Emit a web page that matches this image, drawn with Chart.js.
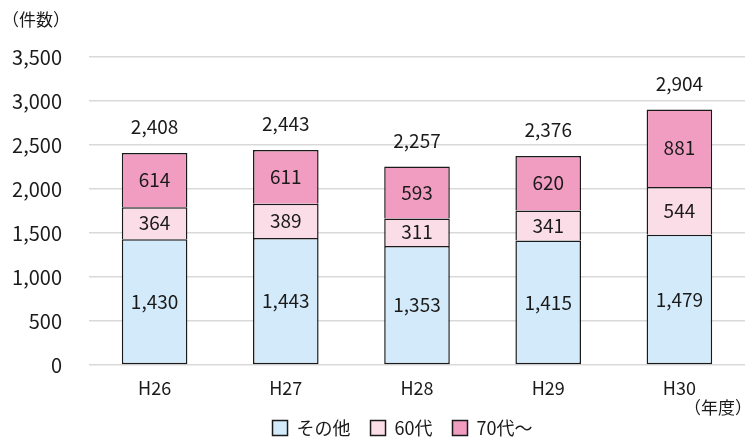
<!DOCTYPE html>
<html>
<head>
<meta charset="utf-8">
<script src="https://cdn.jsdelivr.net/npm/chart.js@4"></script>
<style>
  html, body { margin: 0; padding: 0; background: #fff; }
  #wrap { width: 752px; height: 437px; }
</style>
</head>
<body>
<div id="wrap"><canvas id="c"></canvas></div>
<script>
const FONT = '"Noto Sans CJK JP", "Noto Sans", sans-serif';

const years  = ['H26', 'H27', 'H28', 'H29', 'H30'];
const others = [1430, 1443, 1353, 1415, 1479];
const sixties = [364, 389, 311, 341, 544];
const seventies = [614, 611, 593, 620, 881];
const totals = [2408, 2443, 2257, 2376, 2904];
const yTicks = [0, 500, 1000, 1500, 2000, 2500, 3000, 3500];

const fmt = v => v.toLocaleString('en-US');

// value labels inside segments + totals above bars + unit labels
const labelPlugin = {
    id: 'labels',
    afterLayout(chart) {
        // nudge the legend right so it sits where the original one does
        chart.legend.left += 54;
    },
    afterDatasetsDraw(chart) {
        const ctx = chart.ctx;
        ctx.save();
        ctx.fillStyle = '#1a1a1a';
        ctx.textAlign = 'center';
        ctx.textBaseline = 'middle';
        ctx.font = '19px ' + FONT;
        chart.data.datasets.forEach((ds, di) => {
            chart.getDatasetMeta(di).data.forEach((bar, i) => {
                const mid = (bar.y + bar.base) / 2;
                ctx.fillText(fmt(ds.data[i]), bar.x, mid);
            });
        });
        const top = chart.getDatasetMeta(2).data;
        top.forEach((bar, i) => {
            ctx.fillText(fmt(totals[i]), bar.x, bar.y - 26);
        });
        ctx.font = '17px ' + FONT;
        ctx.textAlign = 'left';
        ctx.fillText('（件数）', 2, 20);
        ctx.textAlign = 'right';
        ctx.fillText('（年度）', 752, 408);
        ctx.restore();
    },
};

const base = {
    borderColor: '#1a1a1a',
    borderWidth: 1.5,
    barPercentage: 0.5,
    categoryPercentage: 1.0,
};

new Chart(document.getElementById('c'), {
    type: 'bar',
    data: {
        labels: years,
        datasets: [
            { ...base, label: 'その他', data: others, backgroundColor: '#d3eafa', borderSkipped: false },
            { ...base, label: '60代', data: sixties, backgroundColor: '#fbdde8', borderSkipped: 'start' },
            { ...base, label: '70代～', data: seventies, backgroundColor: '#f19dc2', borderSkipped: 'start' },
        ],
    },
    options: {
        responsive: true,
        maintainAspectRatio: false,
        animation: false,
        layout: { padding: { top: 57, left: 6, right: 7, bottom: -10 } },
        plugins: {
            legend: {
                position: 'bottom',
                labels: {
                    boxWidth: 15,
                    boxHeight: 15,
                    padding: 20,
                    color: '#1a1a1a',
                    font: { family: FONT, size: 18 },
                },
            },
            tooltip: { enabled: false },
        },
        scales: {
            x: {
                stacked: true,
                grid: { display: false },
                border: { display: false },
                ticks: { color: '#1a1a1a', font: { family: FONT, size: 18 }, padding: 4 },
                afterFit: axis => { axis.height = 34; },
            },
            y: {
                stacked: true,
                min: 0,
                max: 3500,
                afterBuildTicks: axis => { axis.ticks = yTicks.map(v => ({ value: v })); },
                afterFit: axis => { axis.width = 83; },
                grid: { color: '#d9d9d9', lineWidth: 1.5, drawTicks: false },
                border: { display: false },
                ticks: {
                    color: '#1a1a1a',
                    padding: 27,
                    font: { family: FONT, size: 20 },
                    callback: v => fmt(v),
                },
            },
        },
    },
    plugins: [labelPlugin],
});
</script>
</body>
</html>
